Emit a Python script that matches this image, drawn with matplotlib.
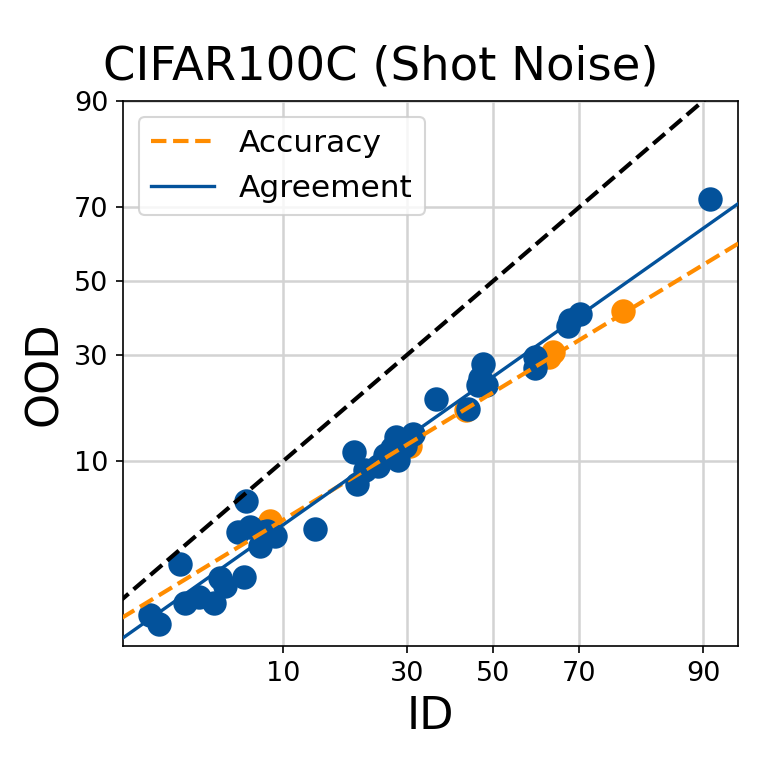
import numpy as np
import matplotlib
matplotlib.use('Agg')
import matplotlib.pyplot as plt
from statistics import NormalDist

nd = NormalDist()

def probit(p):
    return np.array([nd.inv_cdf(v / 100.0) for v in np.atleast_1d(p)])

# agreement points (ID, OOD) in %
agr_id = [1.82, 2.08, 2.81, 3.01, 3.64, 4.44, 4.79, 5.10, 6.44, 6.59, 5.99, 6.90, 7.75, 8.03,
          8.39, 9.17, 13.87, 19.82, 20.33, 21.74, 24.13, 25.49, 26.89, 28.10, 27.69, 29.57,
          31.28, 36.40, 43.93, 46.35, 46.84, 47.57, 48.29, 60.1, 60.1, 67.6, 68.1, 70.2, 90.7]
agr_ood = [0.87, 0.74, 2.2, 1.1, 1.24, 1.1, 1.72, 1.5, 1.78, 5.9, 3.7, 4.0, 2.96, 3.7,
           3.8, 3.5, 3.9, 11.2, 7.4, 8.9, 9.4, 10.8, 11.7, 10.1, 13.3, 12.1,
           13.8, 20.0, 18.1, 22.9, 24.5, 27.7, 22.9, 29.4, 26.8, 37.4, 39.1, 40.7, 72.0]

# accuracy points (ID, OOD) in %
acc_id = [8.68, 7.94, 30.64, 43.45, 63.4, 64.3, 78.6]
acc_ood = [4.4, 3.9, 12.0, 17.9, 29.4, 30.6, 41.5]

# linear fits in probit space (slope, intercept)
acc_fit = (0.708, -0.792)
agr_fit = (0.823, -0.680)

ticks = [10, 30, 50, 70, 90]
orange = '#ff8c00'
blue = '#03529b'

fig = plt.figure(figsize=(761/150, 761/150), dpi=150)
ax = fig.add_axes([0.1616, 0.1511, 0.8082, 0.7162])

ax.scatter(probit(acc_id), probit(acc_ood), s=115, color=orange, zorder=3)
ax.scatter(probit(agr_id), probit(agr_ood), s=115, color=blue, zorder=4)

xs = np.linspace(-2.5, 2.0, 50)
ax.plot(xs, xs, '--', color='black', lw=2, zorder=5)
ax.plot(xs, acc_fit[0]*xs + acc_fit[1], '--', color=orange, lw=2, label='Accuracy', zorder=6)
ax.plot(xs, agr_fit[0]*xs + agr_fit[1], '-', color=blue, lw=1.6, label='Agreement', zorder=6)

ax.set_xlim(-2.258, 1.495)
ax.set_ylim(-2.596, 1.275)
ax.set_xticks(probit(ticks))
ax.set_xticklabels([str(t) for t in ticks], fontsize=13)
ax.set_yticks(probit(ticks))
ax.set_yticklabels([str(t) for t in ticks], fontsize=13)
ax.grid(True, color='#d3d3d3', lw=1.2)
ax.set_axisbelow(True)

ax.set_xlabel('ID', fontsize=21.5)
ax.set_ylabel('OOD', fontsize=21.5)
fig.text(0.5, 0.896, 'CIFAR100C (Shot Noise)', fontsize=22.3, ha='center', va='baseline')
ax.legend(loc='upper left', fontsize=15)

plt.savefig('out.png', dpi=150)
